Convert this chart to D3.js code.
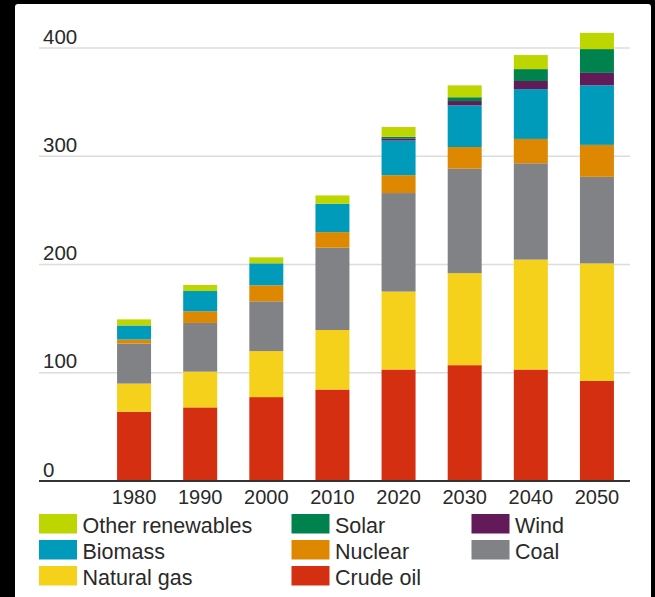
<!DOCTYPE html>
<html>
<head>
<meta charset="utf-8">
<script src="https://cdn.jsdelivr.net/npm/d3@7"></script>
<style>
html, body { margin: 0; padding: 0; background: #000; }
svg { display: block; }
text { font-family: "Liberation Sans", Arial, Helvetica, sans-serif; }
</style>
</head>
<body>
<svg id="chart" width="655" height="597"></svg>
<script>
const years = ["1980", "1990", "2000", "2010", "2020", "2030", "2040", "2050"];
const crudeOil        = [64, 68, 77.5, 84.5, 103, 107, 103, 92.5];
const naturalGas      = [26, 33, 42.5, 55, 72, 85, 101.5, 108.5];
const coal            = [37, 45, 46, 76, 91, 96.5, 89, 80];
const nuclear         = [3.7, 10.8, 14.8, 14.4, 16.5, 20, 22.5, 29.5];
const biomass         = [13, 18.7, 20.3, 26.2, 32, 38.5, 46, 55];
const wind            = [0, 0, 0, 0, 2, 4, 7.5, 11.5];
const solar           = [0, 0, 0, 0, 1.5, 3.5, 11, 22];
const otherRenewables = [5.6, 5.6, 5.5, 7.7, 9, 11, 13, 15];
const yTicks = [0, 100, 200, 300, 400];

const seriesNames  = ["Crude oil", "Natural gas", "Coal", "Nuclear", "Biomass", "Wind", "Solar", "Other renewables"];
const seriesValues = [crudeOil, naturalGas, coal, nuclear, biomass, wind, solar, otherRenewables];
const seriesColors = ["#d52f12", "#f5d11b", "#818285", "#de8700", "#009abb", "#631a59", "#00824e", "#bed600"];
const legendOrder  = ["Other renewables", "Solar", "Wind", "Biomass", "Nuclear", "Coal", "Natural gas", "Crude oil"];

const table = years.map((y, i) => {
  const row = { year: y };
  seriesNames.forEach((n, k) => row[n] = seriesValues[k][i]);
  return row;
});

const svg = d3.select("#chart");

// white panel
svg.append("rect").attr("x", 15).attr("y", 4).attr("width", 636).attr("height", 600)
  .attr("rx", 3).attr("fill", "#fff");

const x = d3.scaleBand().domain(years).range([101, 630]).paddingInner(0.486).paddingOuter(0.243);
const y = d3.scaleLinear().domain([0, 400]).range([481, 48]);
const color = d3.scaleOrdinal().domain(seriesNames).range(seriesColors);

// gridlines
svg.append("g").selectAll("line").data(yTicks.filter(t => t > 0)).join("line")
  .attr("x1", 39).attr("x2", 630)
  .attr("y1", d => y(d)).attr("y2", d => y(d))
  .attr("stroke", "#dcdcdc").attr("stroke-width", 1.6);

// y labels
svg.append("g").selectAll("text").data(yTicks).join("text")
  .attr("x", 43).attr("y", d => y(d) - 4.5)
  .attr("font-size", 20.5).attr("fill", "#2a2a2a")
  .text(d => d);

// stacked bars
const stack = d3.stack().keys(seriesNames)(table);
svg.append("g").selectAll("g").data(stack).join("g")
  .attr("fill", d => color(d.key))
  .selectAll("rect").data(d => d).join("rect")
  .attr("x", d => x(d.data.year))
  .attr("width", x.bandwidth())
  .attr("y", d => y(d[1]))
  .attr("height", d => Math.max(0, y(d[0]) - y(d[1])));

// baseline
svg.append("line").attr("x1", 39).attr("x2", 630).attr("y1", y(0)).attr("y2", y(0))
  .attr("stroke", "#333").attr("stroke-width", 2);

// x axis labels
const xAxis = d3.axisBottom(x).tickSize(0).tickPadding(0);
const gx = svg.append("g").attr("transform", `translate(0,${y(0)})`).call(xAxis);
gx.select(".domain").remove();
gx.selectAll("text")
  .attr("y", 23).attr("dy", 0)
  .attr("font-size", 20).attr("fill", "#2a2a2a")
  .attr("font-family", "Liberation Sans, Arial, sans-serif");

// legend
const colX = [39, 291.5, 471.5];
const rowY = [514, 540, 566];
const legend = svg.append("g").selectAll("g").data(legendOrder).join("g")
  .attr("transform", (d, i) => `translate(${colX[i % 3]},${rowY[Math.floor(i / 3)]})`);
legend.append("rect").attr("width", 38).attr("height", 19.5).attr("fill", d => color(d));
legend.append("text").attr("x", 43.5).attr("y", 18.5)
  .attr("font-size", 21.5).attr("fill", "#2a2a2a").text(d => d);
</script>
</body>
</html>
